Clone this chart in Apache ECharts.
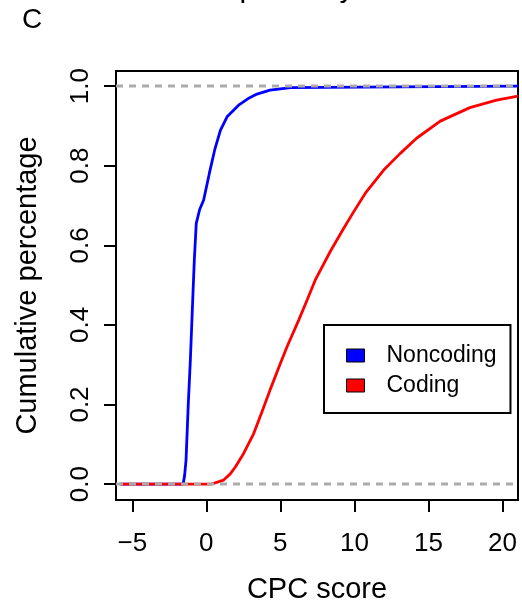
<!DOCTYPE html>
<html><head><meta charset="utf-8">
<script src="https://cdn.jsdelivr.net/npm/echarts@6/dist/echarts.min.js"></script>
<style>html,body{margin:0;padding:0;background:#fff}#c{width:522px;height:610px}</style>
</head><body><div id="c"></div>
<script>
const noncodingX = [-5.8, -1.57, -1.47, -1.37, -1.22, -1.08, -0.9, -0.81, -0.68, -0.45, -0.18, 0.2, 0.56, 0.95, 1.4, 2.18, 2.8, 3.42, 4.3, 5.7, 8.0, 12.9, 13.0, 21.05];
const noncodingY = [0, 0, 0.02, 0.06, 0.2, 0.31, 0.48, 0.563, 0.655, 0.69, 0.714, 0.78, 0.839, 0.889, 0.923, 0.952, 0.968, 0.98, 0.99, 0.996, 0.997, 0.998, 1.0, 1.0];
const codingX = [-5.8, 0.3, 0.6, 1.17, 1.6, 1.96, 2.52, 3.2, 3.76, 4.32, 5.0, 5.45, 6.24, 6.8, 7.36, 8.38, 9.28, 9.95, 10.74, 11.98, 13.1, 14.2, 15.8, 17.8, 19.6, 21.05];
const codingY = [0, 0, 0.003, 0.01, 0.025, 0.043, 0.077, 0.127, 0.182, 0.238, 0.303, 0.345, 0.412, 0.462, 0.513, 0.585, 0.643, 0.684, 0.731, 0.789, 0.831, 0.869, 0.912, 0.946, 0.965, 0.975];
const xTicks = [-5, 0, 5, 10, 15, 20];
const yTicks = [0, 0.2, 0.4, 0.6, 0.8, 1.0];
const refLines = [0, 1];
const seriesNames = ['Noncoding', 'Coding'];
const X_MIN = -6.1, X_MAX = 21.05, Y_MIN = -0.04, Y_MAX = 1.038;

const FONT = 'Liberation Sans, Arial, Helvetica, sans-serif';
const zip = (xs, ys) => xs.map((x, i) => [x, ys[i]]);

const chart = echarts.init(document.getElementById('c'), null, {renderer: 'canvas'});
const series = [
  {name: seriesNames[0], type: 'line', data: zip(noncodingX, noncodingY), showSymbol: false, symbol: 'none',
   lineStyle: {color: '#0000ff', width: 2.8}, itemStyle: {color: '#0000ff'}, z: 2, animation: false},
  {name: seriesNames[1], type: 'line', data: zip(codingX, codingY), showSymbol: false, symbol: 'none',
   lineStyle: {color: '#ff0000', width: 2.8}, itemStyle: {color: '#ff0000'}, z: 2, animation: false}
];
refLines.forEach(v => series.push({
  type: 'line', data: [[X_MIN, v], [X_MAX, v]], showSymbol: false, symbol: 'none', silent: true,
  lineStyle: {color: '#ababab', width: 3, type: [7, 6]}, z: 3, animation: false
}));

chart.setOption({
  animation: false,
  backgroundColor: '#fff',
  textStyle: {fontFamily: FONT},
  grid: {left: 116, right: 4, top: 71, bottom: 110, show: true, borderColor: '#000', borderWidth: 2, containLabel: false},
  graphic: [
    {type: 'text', x: 32, y: 20, style: {text: 'C', fontSize: 28, fontFamily: FONT, fill: '#000', align: 'center', verticalAlign: 'middle'}},
    {type: 'text', x: 287, y: -11, style: {text: 'Specificity', fontSize: 30, fontFamily: FONT, fill: '#000', align: 'center', verticalAlign: 'middle'}}
  ],
  legend: {
    data: seriesNames.map(n => ({name: n, icon: 'rect'})),
    orient: 'vertical', left: 324, top: 325,
    padding: [19, 14, 16, 22], itemGap: 7, itemWidth: 18, itemHeight: 13,
    borderColor: '#000', borderWidth: 2, backgroundColor: '#fff',
    itemStyle: {borderColor: '#000', borderWidth: 1},
    textStyle: {fontSize: 23, color: '#000', fontFamily: FONT, padding: [0, 0, 0, 17], lineHeight: 22},
    selectedMode: false
  },
  xAxis: {
    type: 'value', min: X_MIN, max: X_MAX,
    name: 'CPC score', nameLocation: 'middle', nameGap: 75,
    nameTextStyle: {fontSize: 29, color: '#000', fontFamily: FONT},
    axisLine: {show: true, onZero: false, lineStyle: {color: '#000', width: 2}},
    axisTick: {show: true, length: 12, inside: false, lineStyle: {color: '#000', width: 2}, customValues: xTicks},
    axisLabel: {customValues: xTicks, fontSize: 26, color: '#000', fontFamily: FONT, margin: 31,
      formatter: v => (v < 0 ? '\u2212' + (-v) : String(v))},
    splitLine: {show: false}
  },
  yAxis: {
    type: 'value', min: Y_MIN, max: Y_MAX,
    name: 'Cumulative percentage', nameLocation: 'middle', nameGap: 74, nameRotate: 90,
    nameTextStyle: {fontSize: 29, color: '#000', fontFamily: FONT},
    axisLine: {show: true, onZero: false, lineStyle: {color: '#000', width: 2}},
    axisTick: {show: true, length: 12, inside: false, lineStyle: {color: '#000', width: 2}, customValues: yTicks},
    axisLabel: {customValues: yTicks, fontSize: 26, color: '#000', fontFamily: FONT, margin: 22, rotate: 90,
      formatter: v => v.toFixed(1)},
    splitLine: {show: false}
  },
  series: series
});
</script>
</body></html>
